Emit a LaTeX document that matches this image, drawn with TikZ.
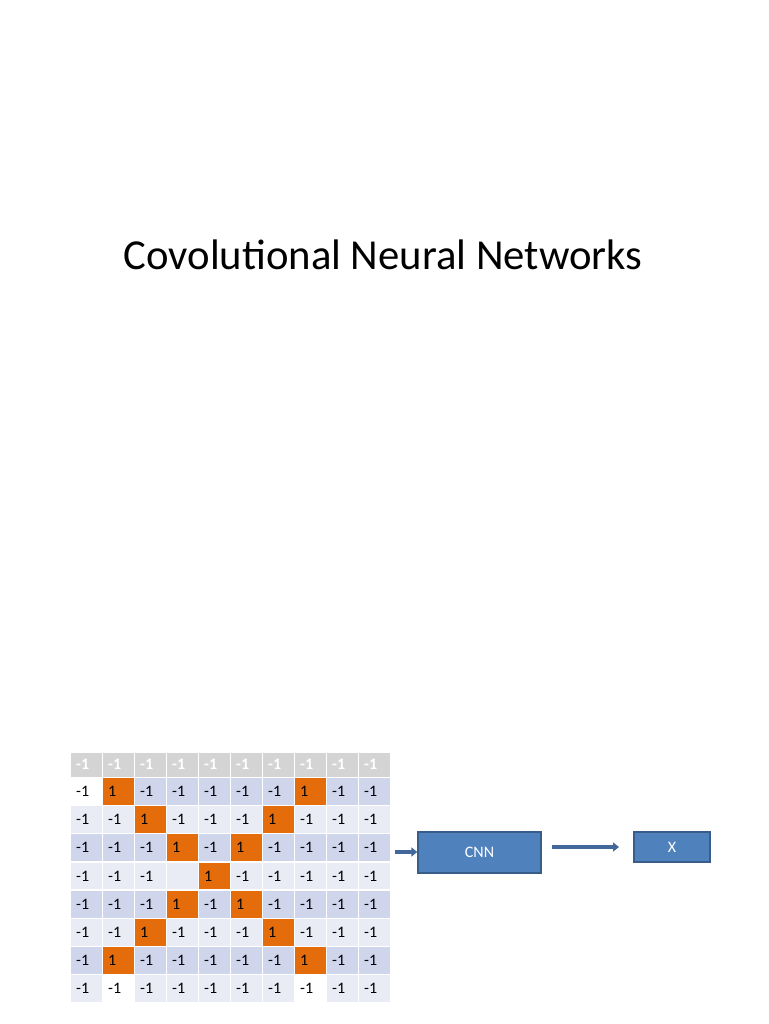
\documentclass[tikz,border=0pt]{standalone}
\usepackage{fontspec}
\setmainfont{Carlito}
\usetikzlibrary{arrows.meta}
\definecolor{hdr}{HTML}{D4D4D4}
\definecolor{bandA}{HTML}{CFD5EA}
\definecolor{bandB}{HTML}{E9EBF5}
\definecolor{orng}{HTML}{E46C0A}
\definecolor{boxfill}{HTML}{4F81BD}
\definecolor{boxline}{HTML}{385D8A}
\definecolor{arrowc}{HTML}{41679B}
\tikzset{
  cellbox/.style={draw=white, line width=1.2pt, minimum width=32pt, minimum height=28.1pt, inner sep=0pt, anchor=north west},
  celltxt/.style={anchor=west, inner sep=0pt, font=\fontsize{16}{16}\selectfont},
  hdrtxt/.style={anchor=west, inner sep=0pt, text=white, font=\fontsize{16}{16}\selectfont\bfseries},
  bluebox/.style={draw=boxline, fill=boxfill, line width=1.3pt, text=white, font=\fontsize{16}{16}\selectfont, inner sep=0pt},
  arr/.style={draw=arrowc, line width=3.3pt, -{Triangle[length=6pt,width=9pt]}}
}
\begin{document}
\begin{tikzpicture}[x=1pt,y=-1pt]
\useasboundingbox (0,0) rectangle (768,1024);
\node[anchor=center, font=\fontsize{42.7}{42.7}\selectfont] (title) at (383,255) {Covolutional Neural Networks};
% header row
\foreach \c in {0,...,9} {
  \node[cellbox, fill=hdr, minimum height=25pt] (h\c) at ({70+32*\c},752) {};
  \node[hdrtxt] (ht\c) at ({76+32*\c},764.5) {-1};
}
% body rows
\foreach \r in {1,...,8} {
  \foreach \c in {1,...,10} {
    \pgfmathtruncatemacro{\odd}{mod(\r,2)}
    \def\fillc{bandB}
    \ifnum\odd=1 \def\fillc{bandA}\fi
    \def\txt{-1}
    % orange cells
    \pgfmathtruncatemacro{\isone}{
      (\r<=7)*((\c==\r+1)+(\c==9-\r))*(\r!=4) + (\r==4)*(\c==5)}
    \ifnum\isone>0 \def\fillc{orng}\def\txt{1}\fi
    % white exceptions
    \pgfmathtruncatemacro{\iswhite}{(\r==1)*(\c==1)+(\r==8)*((\c==2)+(\c==8))}
    \ifnum\iswhite>0 \def\fillc{white}\fi
    \pgfmathtruncatemacro{\isempty}{(\r==4)*(\c==4)}
    \ifnum\isempty>0 \def\txt{}\fi
    \node[cellbox, fill=\fillc] (c\r-\c) at ({70+32*(\c-1)},{777+28.125*(\r-1)}) {};
    \node[celltxt] (t\r-\c) at ({76+32*(\c-1)},{777+28.125*(\r-1)+14.5}) {\txt};
  }
}
\node[bluebox, minimum width=123pt, minimum height=41pt] (cnn) at (479.5,852.5) {CNN};
\node[bluebox, minimum width=76pt, minimum height=30pt] (xbox) at (672,847) {X};
\coordinate (a1) at (395,852);
\coordinate (a2) at (552,847);
\coordinate (a3) at (619,847);
\draw[arr] (a1) -- (cnn.west|-a1);
\draw[arr] (a2) -- (a3);
\end{tikzpicture}
\end{document}
